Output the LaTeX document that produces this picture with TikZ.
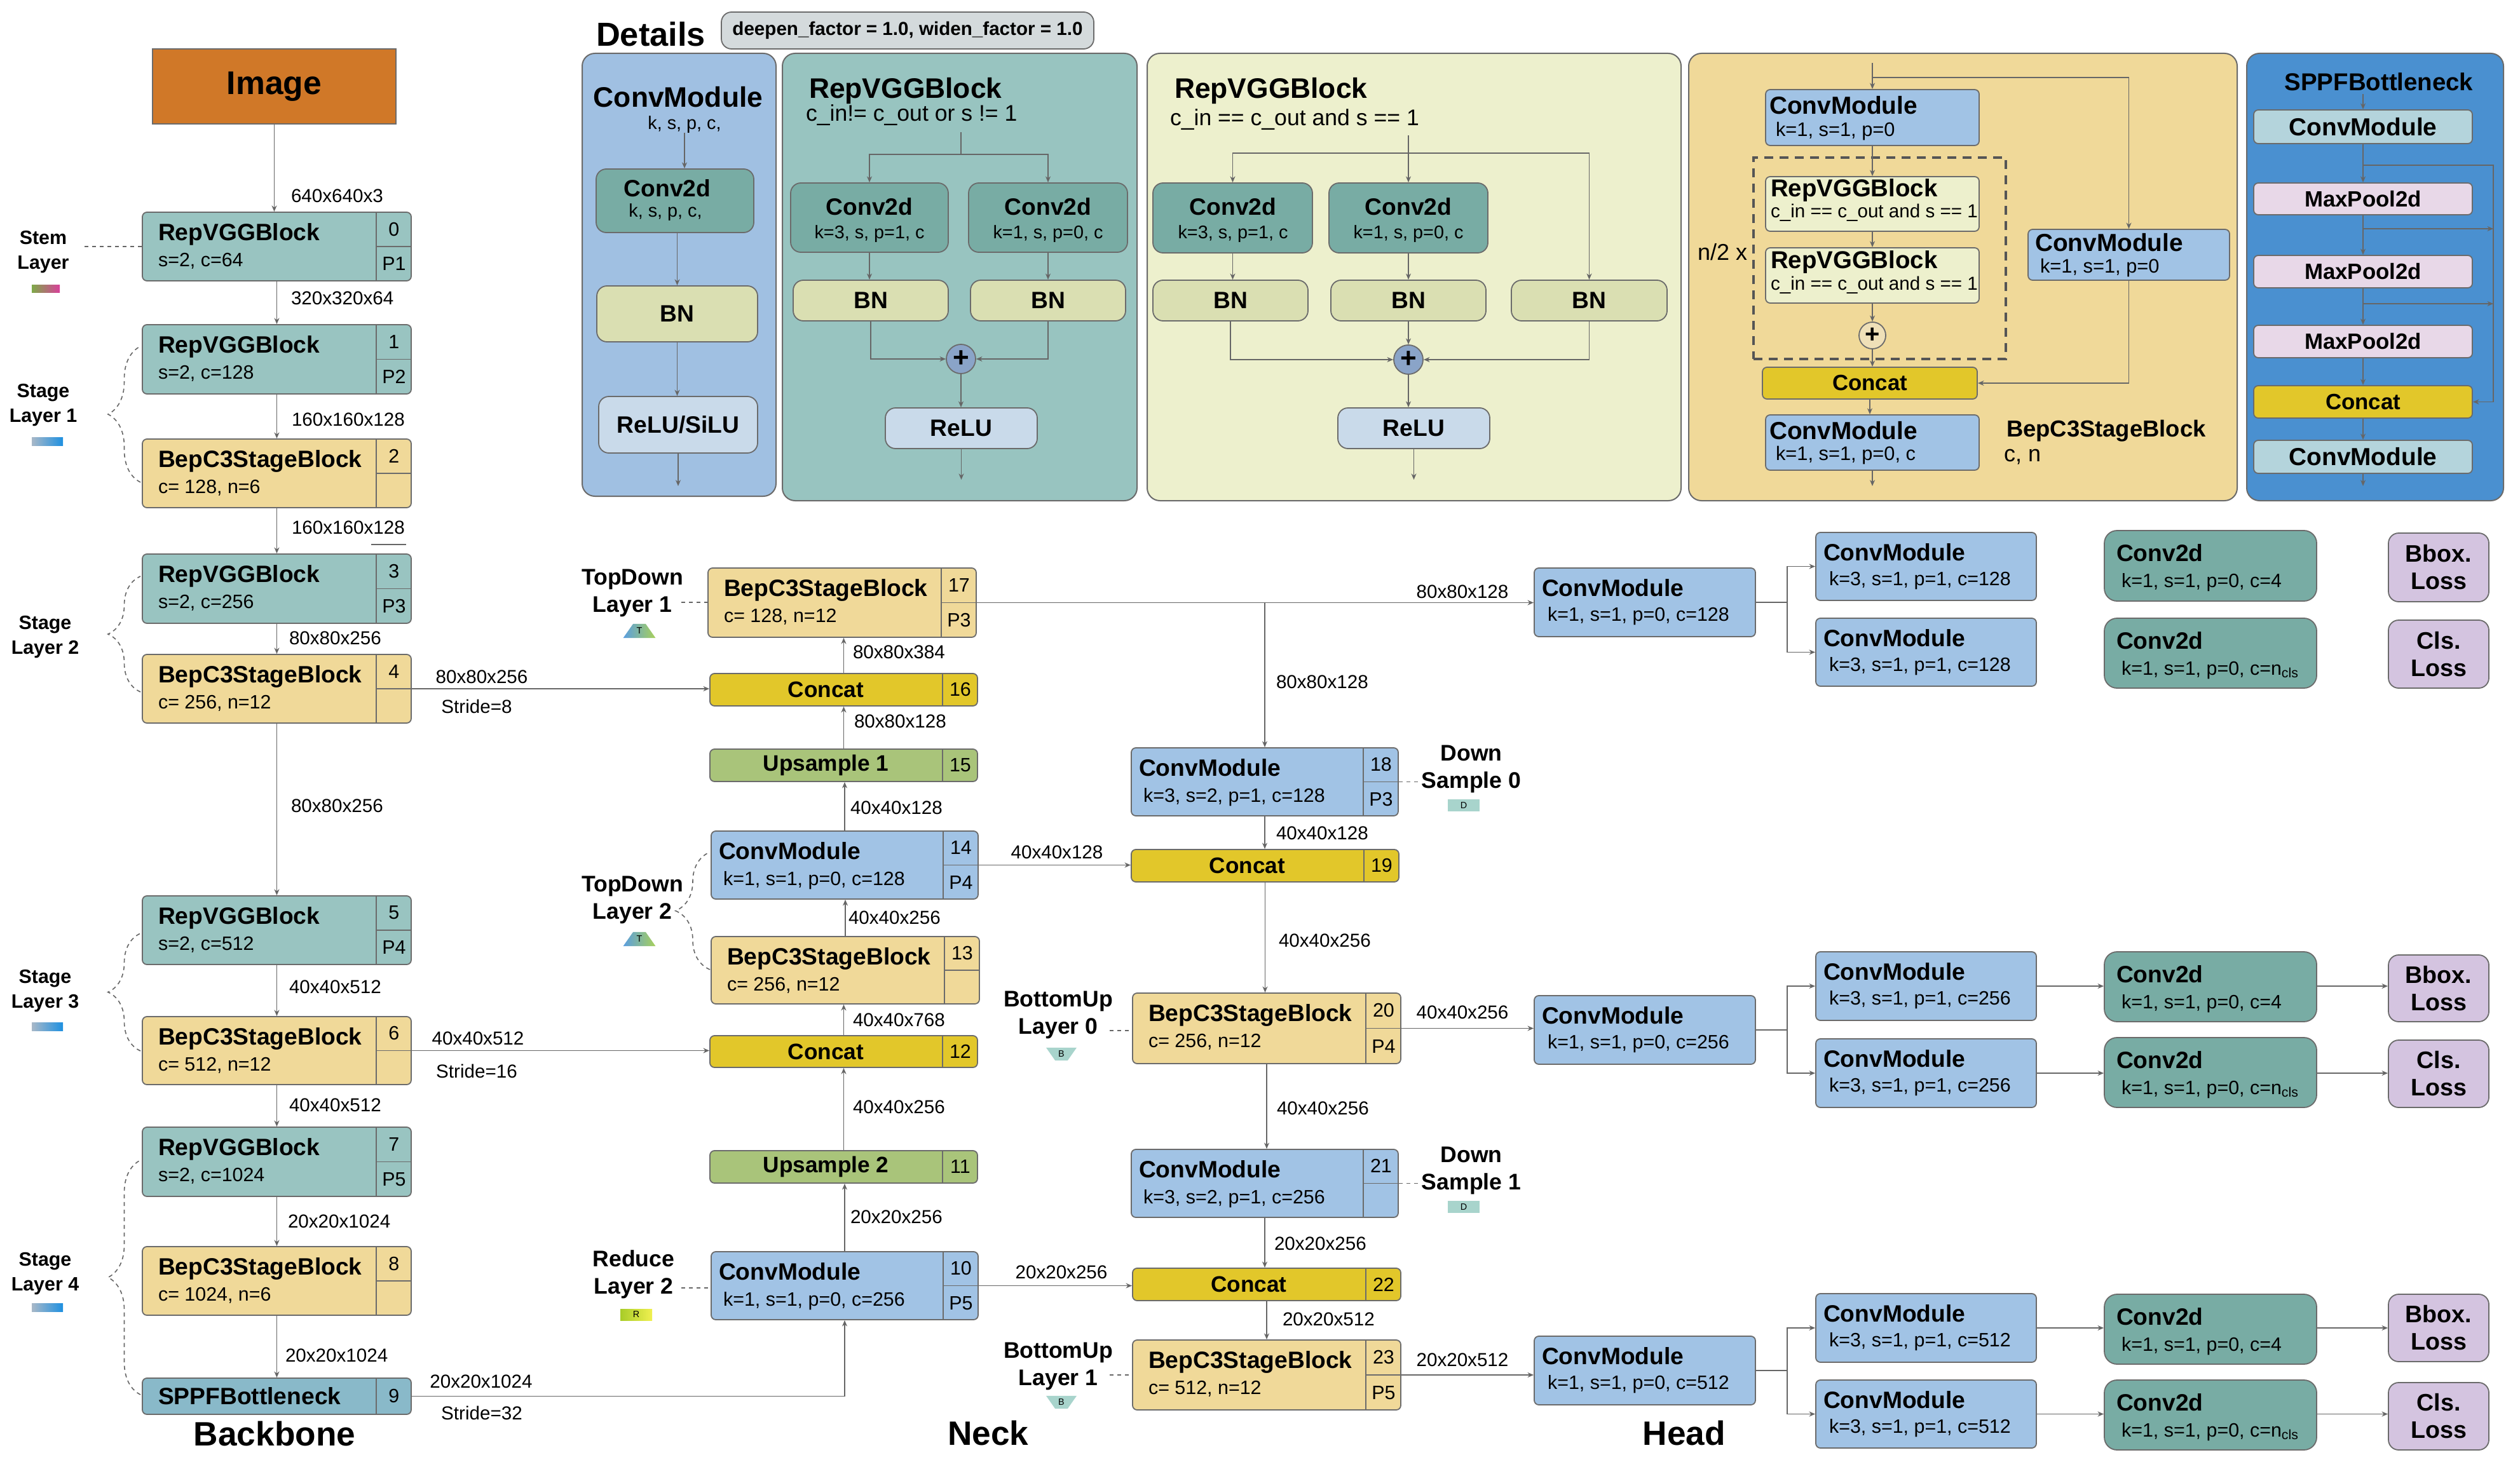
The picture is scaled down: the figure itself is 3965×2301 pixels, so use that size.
\documentclass[tikz,border=0pt]{standalone}
\usepackage{fontspec}
\setmainfont{Liberation Sans}
\usetikzlibrary{fit,calc,arrows.meta,decorations.pathreplacing,shapes.geometric}
\newcommand\fsz[2]{\fontsize{#1}{#2}\selectfont}
\definecolor{bordc}{HTML}{6B6B6B}
\definecolor{linec}{HTML}{666666}
\definecolor{repc}{HTML}{99C4C1}
\definecolor{bepc}{HTML}{F0D999}
\definecolor{sppc}{HTML}{89B9C9}
\definecolor{cmc}{HTML}{A1C3E5}
\definecolor{catc}{HTML}{E2C72A}
\definecolor{upc}{HTML}{A9C47A}
\definecolor{cvc}{HTML}{78ACA4}
\definecolor{lossc}{HTML}{D4C4E0}
\definecolor{imgc}{HTML}{D07828}
\definecolor{p1c}{HTML}{A0C0E2}
\definecolor{p2c}{HTML}{98C4C0}
\definecolor{p3c}{HTML}{EDF0CD}
\definecolor{p5c}{HTML}{4A90D0}
\definecolor{bnc}{HTML}{DADFB2}
\definecolor{reluc}{HTML}{C9DAEA}
\definecolor{spcm}{HTML}{B4D4DC}
\definecolor{mpc}{HTML}{E8D8E8}
\definecolor{pillc}{HTML}{D4DADC}
\definecolor{plusc}{HTML}{8AA4C8}
\definecolor{plustc}{HTML}{EFE0B8}
\definecolor{ibc}{HTML}{A8D4CC}
\definecolor{icTl}{HTML}{5A9EE0}
\definecolor{icTr}{HTML}{A8D05A}
\definecolor{icRl}{HTML}{A8CC28}
\definecolor{icRr}{HTML}{F0F050}
\definecolor{stemL}{HTML}{7EAA48}
\definecolor{stemR}{HTML}{D8409A}
\definecolor{stgL}{HTML}{A8B8C8}
\definecolor{stgR}{HTML}{1E90E0}
\definecolor{dashc}{HTML}{555555}
\tikzset{
 blkS/.style={draw=bordc, line width=0.45pt, rounded corners=1.8pt, inner sep=0pt},
 pnlS/.style={draw=bordc, line width=0.5pt, rounded corners=5pt, inner sep=0pt},
 divS/.style={draw=bordc, line width=0.45pt},
 conn/.style={draw=linec, line width=0.4pt},
 arr/.style={conn, -{Stealth[length=2.4pt,width=2pt]}},
 dsh/.style={draw=linec, line width=0.4pt, dash pattern=on 1.6pt off 1.4pt},
 txtS/.style={inner sep=0pt, outer sep=0pt},
 ttlS/.style={txtS, font=\fsz{9.3pt}{11pt}\bfseries},
 subS/.style={txtS, font=\fsz{7.6pt}{9pt}},
 idxS/.style={txtS, font=\fsz{7.6pt}{9pt}},
 labS/.style={txtS, font=\fsz{7.4pt}{9pt}},
 slabS/.style={txtS, align=center, font=\fsz{7.6pt}{9.75pt}\bfseries},
 nlabS/.style={txtS, align=center, font=\fsz{8.9pt}{10.75pt}\bfseries},
 bigS/.style={txtS, font=\fsz{13.3pt}{15pt}\bfseries},
 ptitleS/.style={txtS, font=\fsz{11.1pt}{13pt}\bfseries},
 psubS/.style={txtS, font=\fsz{8.9pt}{10pt}},
 pinS/.style={txtS, font=\fsz{9.3pt}{11pt}\bfseries},
 pparS/.style={txtS, font=\fsz{7.2pt}{9pt}},
 barS/.style={txtS, font=\fsz{8.8pt}{10pt}\bfseries},
 iboxS/.style={blkS, rounded corners=4pt},
}
% box with centred text: name, corner1, corner2, box style, font, text
\newcommand\tbox[6]{%
  \node[#4, fit={(#2) (#3)}] (#1) {};
  \node[txtS, align=center, font=#5] (#1-t) at (#1.center) {#6};
}
\newcommand\blkbase[8]{%
  \node[blkS, fill=#4, fit={(#2) (#3)}] (#1) {};
  \draw[divS] ([xshift=-14pt]#1.north east) -- ([xshift=-14pt]#1.south east);
  \draw[divS] ([xshift=-14pt]#1.east) -- (#1.east);
  \node[ttlS, anchor=base west] (#1-t) at ([xshift=\tmar, yshift=-11.25pt]#1.north west) {#5};
  \node[subS, anchor=base west] (#1-s) at ([xshift=\smar, yshift=-21.5pt]#1.north west) {#6};
  \node[idxS] (#1-i) at ($(#1.north east)!0.5!(#1.east)+(-7pt,0pt)$) {#7};
  \node[idxS] (#1-p) at ($(#1.south east)!0.5!(#1.east)+(-7pt,0pt)$) {#8};
}
\newcommand\barblk[6]{%
  \node[blkS, fill=#4, fit={(#2) (#3)}] (#1) {};
  \draw[divS] ([xshift=-14pt]#1.north east) -- ([xshift=-14pt]#1.south east);
  \node[barS] (#1-t) at ($(#1.center)+(-7pt,0pt)$) {#5};
  \node[idxS] (#1-i) at ($(#1.east)+(-7pt,0pt)$) {#6};
}
\newcommand\headcm[5]{%
  \node[blkS, fill=cmc, fit={(#2) (#3)}] (#1) {};
  \node[ttlS, anchor=base west] (#1-t) at ([xshift=3.25pt, yshift=-11.25pt]#1.north west) {#4};
  \node[subS, anchor=base west] (#1-s) at ([xshift=5.5pt, yshift=-21pt]#1.north west) {#5};
}
\newcommand\headcv[4]{%
  \node[blkS, fill=cvc, rounded corners=5pt, fit={(#2) (#3)}] (#1) {};
  \node[ttlS, anchor=base west] (#1-t) at ([xshift=5pt, yshift=-12.25pt]#1.north west) {Conv2d};
  \node[subS, anchor=base west] (#1-s) at ([xshift=7pt, yshift=-22.5pt]#1.north west) {#4};
}
\newcommand\lossbx[4]{%
  \tbox{#1}{#2}{#3}{blkS, fill=lossc, rounded corners=4pt}{\fsz{9.4pt}{10.75pt}\bfseries}{#4}%
}
\begin{document}
\begin{tikzpicture}[x=0.25pt,y=-0.25pt]
\useasboundingbox (0,0) rectangle (3965,2301);
\fill[white] (0,0) rectangle (3965,2301);

% ================= Backbone =================
\tbox{img}{240,77}{623,195}{draw=bordc, line width=0.5pt, fill=imgc, inner sep=0pt}{\fsz{12.9pt}{14pt}\bfseries}{Image}
\def\tmar{6.5pt}\def\smar{6.5pt}
\blkbase{b0}{224,334}{647,442}{repc}{RepVGGBlock}{s=2, c=64}{0}{P1}
\blkbase{b1}{224,511}{647,620}{repc}{RepVGGBlock}{s=2, c=128}{1}{P2}
\blkbase{b2}{224,691}{647,799}{bepc}{BepC3StageBlock}{c= 128, n=6}{2}{}
\blkbase{b3}{224,872}{647,981}{repc}{RepVGGBlock}{s=2, c=256}{3}{P3}
\blkbase{b4}{224,1030}{647,1138}{bepc}{BepC3StageBlock}{c= 256, n=12}{4}{}
\blkbase{b5}{224,1410}{647,1518}{repc}{RepVGGBlock}{s=2, c=512}{5}{P4}
\blkbase{b6}{224,1600}{647,1707}{bepc}{BepC3StageBlock}{c= 512, n=12}{6}{}
\blkbase{b7}{224,1774}{647,1883}{repc}{RepVGGBlock}{s=2, c=1024}{7}{P5}
\blkbase{b8}{224,1962}{647,2070}{bepc}{BepC3StageBlock}{c= 1024, n=6}{8}{}
\node[blkS, fill=sppc, fit={(224,2169) (647,2226)}] (b9) {};
\draw[divS] ([xshift=-14pt]b9.north east) -- ([xshift=-14pt]b9.south east);
\node[ttlS, anchor=west] (b9-t) at ([xshift=6.5pt]b9.west) {SPPFBottleneck};
\node[idxS] (b9-i) at ([xshift=-7pt]b9.east) {9};

\draw[arr] (img.south) -- (img.south |- b0.north);
\foreach \a/\b in {b0/b1,b1/b2,b2/b3,b3/b4,b4/b5,b5/b6,b6/b7,b7/b8,b8/b9}
  \draw[arr] (\a.south) -- (\b.north);
\draw[conn] (584,857) -- (639,857);

\node[labS, anchor=west] (l01) at (458,308) {640x640x3};
\node[labS, anchor=west] (l02) at (458,469) {320x320x64};
\node[labS, anchor=west] (l03) at (459,660) {160x160x128};
\node[labS, anchor=west] (l04) at (459,830) {160x160x128};
\node[labS, anchor=west] (l05) at (455,1004) {80x80x256};
\node[labS, anchor=west] (l06) at (458,1268) {80x80x256};
\node[labS, anchor=west] (l07) at (455,1553) {40x40x512};
\node[labS, anchor=west] (l08) at (455,1739) {40x40x512};
\node[labS, anchor=west] (l09) at (453,1922) {20x20x1024};
\node[labS, anchor=west] (l10) at (449,2133) {20x20x1024};
\node[labS] (l11) at (758,1065) {80x80x256};
\node[labS] (l12) at (750,1112) {Stride=8};
\node[labS] (l13) at (752,1634) {40x40x512};
\node[labS] (l14) at (750,1686) {Stride=16};
\node[labS] (l15) at (757,2174) {20x20x1024};
\node[labS] (l16) at (758,2224) {Stride=32};

% stage labels
\node[slabS] (sStem) at (68,397) {Stem\\Layer};
\node[inner sep=0pt, fit={(50,448) (94,460)}, left color=stemL, right color=stemR] (barStem) {};
\coordinate (stemE) at (133,388);
\draw[dsh] (stemE) -- (stemE -| b0.west);
\node[slabS] (sSt1) at (68,638) {Stage\\Layer 1};
\node[inner sep=0pt, fit={(50,688) (99,701)}, left color=stgL, right color=stgR] (barSt1) {};
\node[slabS] (sSt2) at (71,1003) {Stage\\Layer 2};
\node[slabS] (sSt3) at (71,1560) {Stage\\Layer 3};
\node[inner sep=0pt, fit={(50,1609) (99,1622)}, left color=stgL, right color=stgR] (barSt3) {};
\node[slabS] (sSt4) at (71,2005) {Stage\\Layer 4};
\node[inner sep=0pt, fit={(50,2051) (99,2064)}, left color=stgL, right color=stgR] (barSt4) {};
\draw[dsh, decorate, decoration={brace, amplitude=12.75pt}] (221,759) -- (221,545);
\draw[dsh, decorate, decoration={brace, amplitude=12.75pt}] (221,1089) -- (221,907);
\draw[dsh, decorate, decoration={brace, amplitude=12.75pt}] (221,1654) -- (221,1469);
\draw[dsh, decorate, decoration={brace, amplitude=12.75pt}] (221,2195) -- (221,1826);
\node[bigS] (tBack) at (432,2256) {Backbone};

% ================= Head =================
\headcm{H1A}{2414,894}{2762,1002}{ConvModule}{k=1, s=1, p=0, c=128}
\headcm{H2aA}{2857,838}{3204,945}{ConvModule}{k=3, s=1, p=1, c=128}
\headcm{H2bA}{2857,973}{3204,1080}{ConvModule}{k=3, s=1, p=1, c=128}
\headcv{CvaA}{3311,835}{3645,946}{k=1, s=1, p=0, c=4}
\headcv{CvbA}{3311,973}{3645,1083}{k=1, s=1, p=0, c=n\textsubscript{cls}}
\lossbx{BbA}{3758,839}{3916,947}{Bbox.\\Loss}
\lossbx{ClA}{3758,976}{3916,1083}{Cls.\\Loss}

\headcm{H1B}{2414,1567}{2762,1675}{ConvModule}{k=1, s=1, p=0, c=256}
\headcm{H2aB}{2857,1498}{3204,1606}{ConvModule}{k=3, s=1, p=1, c=256}
\headcm{H2bB}{2857,1635}{3204,1743}{ConvModule}{k=3, s=1, p=1, c=256}
\headcv{CvaB}{3311,1498}{3645,1608}{k=1, s=1, p=0, c=4}
\headcv{CvbB}{3311,1633}{3645,1743}{k=1, s=1, p=0, c=n\textsubscript{cls}}
\lossbx{BbB}{3758,1503}{3916,1608}{Bbox.\\Loss}
\lossbx{ClB}{3758,1637}{3916,1743}{Cls.\\Loss}

\headcm{H1C}{2414,2103}{2762,2211}{ConvModule}{k=1, s=1, p=0, c=512}
\headcm{H2aC}{2857,2036}{3204,2144}{ConvModule}{k=3, s=1, p=1, c=512}
\headcm{H2bC}{2857,2172}{3204,2279}{ConvModule}{k=3, s=1, p=1, c=512}
\headcv{CvaC}{3311,2037}{3645,2147}{k=1, s=1, p=0, c=4}
\headcv{CvbC}{3311,2172}{3645,2282}{k=1, s=1, p=0, c=n\textsubscript{cls}}
\lossbx{BbC}{3758,2037}{3916,2143}{Bbox.\\Loss}
\lossbx{ClC}{3758,2176}{3916,2282}{Cls.\\Loss}

\foreach \r in {A,B,C} {
  \coordinate (J\r) at ($(H1\r.east)+(12.25pt,0pt)$);
  \draw[arr] (H1\r.east) -- (J\r) |- (H2a\r.west);
  \draw[arr] (J\r) |- (H2b\r.west);
}
\foreach \r in {B,C} {
  \draw[arr] (H2a\r.east) -- (H2a\r.east -| Cva\r.west);
  \draw[arr] (H2a\r.east -| Cva\r.east) -- (H2a\r.east -| Bb\r.west);
  \draw[arr] (H2b\r.east) -- (H2b\r.east -| Cvb\r.west);
  \draw[arr] (H2b\r.east -| Cvb\r.east) -- (H2b\r.east -| Cl\r.west);
}
\node[bigS] (tHead) at (2650,2255) {Head};

% ================= Neck =================
\def\tmar{6.5pt}\def\smar{6.5pt}
\blkbase{b17}{1114,894}{1536,1003}{bepc}{BepC3StageBlock}{c= 128, n=12}{17}{P3}
\blkbase{b13}{1119,1474}{1541,1580}{bepc}{BepC3StageBlock}{c= 256, n=12}{13}{}
\blkbase{b20}{1782,1563}{2204,1674}{bepc}{BepC3StageBlock}{c= 256, n=12}{20}{P4}
\blkbase{b23}{1782,2109}{2204,2219}{bepc}{BepC3StageBlock}{c= 512, n=12}{23}{P5}
\def\tmar{3.25pt}\def\smar{5pt}
\blkbase{cm14}{1119,1308}{1539,1415}{cmc}{ConvModule}{k=1, s=1, p=0, c=128}{14}{P4}
\blkbase{cm10}{1119,1970}{1539,2077}{cmc}{ConvModule}{k=1, s=1, p=0, c=256}{10}{P5}
\blkbase{cm18}{1780,1177}{2200,1284}{cmc}{ConvModule}{k=3, s=2, p=1, c=128}{18}{P3}
\blkbase{cm21}{1780,1809}{2200,1916}{cmc}{ConvModule}{k=3, s=2, p=1, c=256}{21}{}
\barblk{c16}{1117,1060}{1538,1111}{catc}{Concat}{16}
\barblk{u15}{1117,1179}{1538,1230}{upc}{Upsample 1}{15}
\barblk{c12}{1117,1630}{1538,1680}{catc}{Concat}{12}
\barblk{u11}{1117,1811}{1538,1862}{upc}{Upsample 2}{11}
\barblk{c19}{1780,1337}{2201,1388}{catc}{Concat}{19}
\barblk{c22}{1782,1996}{2204,2047}{catc}{Concat}{22}

\draw[arr] (c16.north) -- (c16.north |- b17.south);
\draw[arr] (u15.north) -- (u15.north |- c16.south);
\draw[arr] (cm14.north) -- (cm14.north |- u15.south);
\draw[arr] (b13.north) -- (b13.north |- cm14.south);
\draw[arr] (c12.north) -- (c12.north |- b13.south);
\draw[arr] (u11.north) -- (u11.north |- c12.south);
\draw[arr] (cm10.north) -- (cm10.north |- u11.south);
\draw[arr] (b4.east) -- (b4.east -| c16.west);
\draw[arr] (b6.east) -- (b6.east -| c12.west);
\draw[arr] (b9.east) -| (cm10.south);
\draw[arr] (cm14.east) -- (cm14.east -| c19.west);
\draw[arr] (cm10.east) -- (cm10.east -| c22.west);
\draw[arr] (b17.east) -- (b17.east -| H1A.west);
\draw[arr] (b17.east -| cm18.north) -- (cm18.north);
\draw[arr] (cm18.south) -- (cm18.south |- c19.north);
\draw[arr] (c19.south) -- (c19.south |- b20.north);
\draw[arr] (b20.south) -- (b20.south |- cm21.north);
\draw[arr] (cm21.south) -- (cm21.south |- c22.north);
\draw[arr] (c22.south) -- (c22.south |- b23.north);
\draw[arr] (b20.east) -- (b20.east -| H1B.west);
\draw[arr] (b23.east) -- (b23.east -| H1C.west);

\node[labS, anchor=west] (n01) at (1342,1026) {80x80x384};
\node[labS, anchor=west] (n02) at (1344,1135) {80x80x128};
\node[labS, anchor=west] (n03) at (1338,1271) {40x40x128};
\node[labS, anchor=west] (n04) at (1335,1444) {40x40x256};
\node[labS, anchor=west] (n05) at (1342,1605) {40x40x768};
\node[labS, anchor=west] (n06) at (1342,1742) {40x40x256};
\node[labS, anchor=west] (n07) at (1338,1915) {20x20x256};
\node[labS] (n08) at (1663,1341) {40x40x128};
\node[labS] (n09) at (1670,2002) {20x20x256};
\node[labS, anchor=west] (n10) at (2008,1073) {80x80x128};
\node[labS, anchor=west] (n11) at (2008,1311) {40x40x128};
\node[labS, anchor=west] (n12) at (2012,1480) {40x40x256};
\node[labS, anchor=west] (n13) at (2009,1744) {40x40x256};
\node[labS, anchor=west] (n14) at (2005,1957) {20x20x256};
\node[labS, anchor=west] (n15) at (2018,2076) {20x20x512};
\node[labS] (n16) at (2301,931) {80x80x128};
\node[labS] (n17) at (2301,1593) {40x40x256};
\node[labS] (n18) at (2301,2140) {20x20x512};

% neck side labels
\node[nlabS] (sTD1) at (995,933) {TopDown\\Layer 1};
\node[trapezium, trapezium angle=55, minimum width=12.75pt, minimum height=4.75pt, inner sep=0pt, left color=icTl, right color=icTr, font=\fsz{3.6pt}{4pt}] (icT1) at (1006,993) {T};
\coordinate (td1E) at (1072,948);
\draw[dsh] (td1E) -- (td1E -| b17.west);
\node[nlabS] (sTD2) at (995,1416) {TopDown\\Layer 2};
\node[trapezium, trapezium angle=55, minimum width=12.75pt, minimum height=4.75pt, inner sep=0pt, left color=icTl, right color=icTr, font=\fsz{3.6pt}{4pt}] (icT2) at (1006,1478) {T};
\draw[dsh, decorate, decoration={brace, amplitude=13.5pt}] (1117,1526) -- (1117,1341);
\node[nlabS] (sRD) at (997,2006) {Reduce\\Layer 2};
\tbox{icR}{976,2060}{1026,2078}{inner sep=0pt, left color=icRl, right color=icRr}{\fsz{3.6pt}{4pt}}{R}
\coordinate (rdE) at (1072,2027);
\draw[dsh] (rdE) -- (rdE -| cm10.west);
\node[nlabS] (sBU0) at (1665,1597) {BottomUp\\Layer 0};
\node[trapezium, trapezium angle=55, shape border rotate=180, minimum width=12pt, minimum height=5pt, inner sep=0pt, fill=ibc, font=\fsz{3.6pt}{4pt}] (icB0) at (1670,1659) {B};
\coordinate (bu0E) at (1746,1622);
\draw[dsh] (bu0E) -- (bu0E -| b20.west);
\node[nlabS] (sBU1) at (1665,2150) {BottomUp\\Layer 1};
\node[trapezium, trapezium angle=55, shape border rotate=180, minimum width=12pt, minimum height=5pt, inner sep=0pt, fill=ibc, font=\fsz{3.6pt}{4pt}] (icB1) at (1670,2207) {B};
\coordinate (bu1E) at (1746,2164);
\draw[dsh] (bu1E) -- (bu1E -| b23.west);
\node[nlabS] (sDS0) at (2315,1210) {Down\\Sample 0};
\tbox{icD0}{2278,1258}{2328,1277}{inner sep=0pt, fill=ibc}{\fsz{3.6pt}{4pt}}{D}
\coordinate (ds0W) at (2235,1232);
\draw[dsh] (cm18.east) -- (cm18.east -| ds0W);
\node[nlabS] (sDS1) at (2315,1842) {Down\\Sample 1};
\tbox{icD1}{2278,1890}{2328,1909}{inner sep=0pt, fill=ibc}{\fsz{3.6pt}{4pt}}{D}
\coordinate (ds1W) at (2235,1864);
\draw[dsh] (cm21.east) -- (cm21.east -| ds1W);
\node[bigS] (tNeck) at (1555,2255) {Neck};

% ================= Details =================
\node[txtS, font=\fsz{13.1pt}{15pt}\bfseries] (tDet) at (1024,54) {Details};
\tbox{pill}{1135,19}{1721,77}{draw=bordc, line width=0.45pt, fill=pillc, rounded corners=4pt, inner sep=0pt}{\fsz{7.4pt}{9pt}\bfseries}{deepen\_factor = 1.0, widen\_factor = 1.0}

% Panel 1: ConvModule
\node[pnlS, fill=p1c, fit={(916,84) (1221,781)}] (P1) {};
\node[ptitleS] (P1t) at (1067,153) {ConvModule};
\node[pparS] (P1k) at (1077,196) {k, s, p, c,};
\node[iboxS, fill=cvc, fit={(938,266) (1186,366)}] (P1c) {};
\node[pinS] (P1ct) at (1050,296) {Conv2d};
\node[pparS] (P1cs) at (1047,334) {k, s, p, c,};
\tbox{P1b}{939,450}{1192,538}{iboxS, fill=bnc}{\fsz{9.3pt}{11pt}\bfseries}{BN}
\tbox{P1r}{942,624}{1192,713}{iboxS, fill=reluc}{\fsz{9.3pt}{11pt}\bfseries}{ReLU/SiLU}
\coordinate (P1o) at (1068,765);
\draw[arr] (P1k.south) -- (P1k.south |- P1c.north);
\draw[arr] (P1b.north |- P1c.south) -- (P1b.north);
\draw[arr] (P1b.south) -- (P1b.south |- P1r.north);
\draw[arr] (P1r.south) -- (P1r.south |- P1o);

% Panel 2: RepVGGBlock (train)
\node[pnlS, fill=p2c, fit={(1231,84) (1789,788)}] (P2) {};
\node[ptitleS, anchor=west] (P2t) at (1273,143) {RepVGGBlock};
\node[psubS, anchor=west] (P2s) at (1268,181) {c\_in!= c\_out or s != 1};
\node[iboxS, fill=cvc, fit={(1244,288) (1492,397)}] (P2cl) {};
\node[pinS] (P2clt) at (1368,325) {Conv2d};
\node[pparS] (P2cls) at (1368,368) {k=3, s, p=1, c};
\node[iboxS, fill=cvc, fit={(1524,288) (1774,397)}] (P2cr) {};
\node[pinS] (P2crt) at (1649,325) {Conv2d};
\node[pparS] (P2crs) at (1649,368) {k=1, s, p=0, c};
\tbox{P2bl}{1248,441}{1492,505}{iboxS, fill=bnc}{\fsz{9.3pt}{11pt}\bfseries}{BN}
\tbox{P2br}{1527,441}{1771,505}{iboxS, fill=bnc}{\fsz{9.3pt}{11pt}\bfseries}{BN}
\node[circle, draw=bordc, line width=0.45pt, fill=plusc, minimum size=11.5pt, inner sep=0pt, font=\fsz{11pt}{11pt}\bfseries] (P2p) at (1512,565) {+};
\tbox{P2r}{1393,642}{1632,706}{iboxS, fill=reluc}{\fsz{9.3pt}{11pt}\bfseries}{ReLU}
\coordinate (P2in) at (1512,208);
\coordinate (P2j) at (1512,243);
\coordinate (P2o) at (1512,755);
\draw[conn] (P2in) -- (P2j);
\draw[arr] (P2j) -| (P2cl.north);
\draw[arr] (P2j) -| (P2cr.north);
\draw[arr] (P2cl.south) -- (P2cl.south |- P2bl.north);
\draw[arr] (P2cr.south) -- (P2cr.south |- P2br.north);
\draw[arr] (P2bl.south) |- (P2p.west);
\draw[arr] (P2br.south) |- (P2p.east);
\draw[arr] (P2p.south) -- (P2p.south |- P2r.north);
\draw[arr] (P2r.south) -- (P2r.south |- P2o);

% Panel 3: RepVGGBlock (infer)
\node[pnlS, fill=p3c, fit={(1805,84) (2645,788)}] (P3) {};
\node[ptitleS, anchor=west] (P3t) at (1848,143) {RepVGGBlock};
\node[psubS, anchor=west] (P3s) at (1841,188) {c\_in == c\_out and s == 1};
\node[iboxS, fill=cvc, fit={(1814,288) (2065,398)}] (P3cl) {};
\node[pinS] (P3clt) at (1940,325) {Conv2d};
\node[pparS] (P3cls) at (1940,368) {k=3, s, p=1, c};
\node[iboxS, fill=cvc, fit={(2091,288) (2341,398)}] (P3cm) {};
\node[pinS] (P3cmt) at (2216,325) {Conv2d};
\node[pparS] (P3cms) at (2216,368) {k=1, s, p=0, c};
\tbox{P3b1}{1814,441}{2058,505}{iboxS, fill=bnc}{\fsz{9.3pt}{11pt}\bfseries}{BN}
\tbox{P3b2}{2094,441}{2338,505}{iboxS, fill=bnc}{\fsz{9.3pt}{11pt}\bfseries}{BN}
\tbox{P3b3}{2378,441}{2623,505}{iboxS, fill=bnc}{\fsz{9.3pt}{11pt}\bfseries}{BN}
\node[circle, draw=bordc, line width=0.45pt, fill=plusc, minimum size=11.5pt, inner sep=0pt, font=\fsz{11pt}{11pt}\bfseries] (P3p) at (2216,566) {+};
\tbox{P3r}{2105,642}{2344,706}{iboxS, fill=reluc}{\fsz{9.3pt}{11pt}\bfseries}{ReLU}
\coordinate (P3in) at (2216,213);
\coordinate (P3j) at (2216,241);
\coordinate (P3o) at (2224,755);
\draw[arr] (P3in) -- (P3in |- P3cm.north);
\draw[arr] (P3j) -| (P3cl.north);
\draw[arr] (P3j) -| (P3b3.north);
\draw[arr] (P3cl.south) -- (P3cl.south |- P3b1.north);
\draw[arr] (P3cm.south) -- (P3cm.south |- P3b2.north);
\draw[arr] (P3b1.south) |- (P3p.west);
\draw[arr] (P3b2.south) -- (P3b2.south |- P3p.north);
\draw[arr] (P3b3.south) |- (P3p.east);
\draw[arr] (P3p.south) -- (P3p.south |- P3r.north);
\draw[arr] (P3r.south) -- (P3r.south |- P3o);

% Panel 4: BepC3StageBlock
\node[pnlS, fill=bepc, fit={(2657,84) (3520,788)}] (P4) {};
\node[blkS, fill=cmc, fit={(2778,141) (3114,229)}] (P4ca) {};
\node[txtS, anchor=west, font=\fsz{9.7pt}{11pt}\bfseries] (P4cat1) at (2784,166) {ConvModule};
\node[txtS, anchor=west, font=\fsz{7.7pt}{9pt}] (P4cas) at (2794,207) {k=1, s=1, p=0};
\node[draw=dashc, line width=1.1pt, dash pattern=on 3.5pt off 2.5pt, inner sep=0pt, fit={(2759,248) (3156,565)}] (P4d) {};
\node[txtS, anchor=west, font=\fsz{9pt}{10pt}] (P4n) at (2671,397) {n/2 x};
\node[blkS, fill=p3c, fit={(2778,278) (3114,364)}] (P4ra) {};
\node[txtS, anchor=west, font=\fsz{9.6pt}{11pt}\bfseries] (P4rat) at (2786,300) {RepVGGBlock};
\node[txtS, anchor=west, font=\fsz{7.4pt}{9pt}] (P4ras) at (2786,335) {c\_in == c\_out and s == 1};
\node[blkS, fill=p3c, fit={(2778,390) (3114,477)}] (P4rb) {};
\node[txtS, anchor=west, font=\fsz{9.6pt}{11pt}\bfseries] (P4rbt) at (2786,413) {RepVGGBlock};
\node[txtS, anchor=west, font=\fsz{7.4pt}{9pt}] (P4rbs) at (2786,449) {c\_in == c\_out and s == 1};
\node[circle, draw=bordc, line width=0.45pt, fill=plustc, minimum size=10.5pt, inner sep=0pt, font=\fsz{10pt}{10pt}\bfseries] (P4p) at (2946,528) {+};
\tbox{P4cat}{2773,578}{3111,628}{blkS, fill=catc}{\fsz{8.7pt}{10pt}\bfseries}{Concat}
\node[blkS, fill=cmc, fit={(3191,361) (3508,441)}] (P4cb) {};
\node[txtS, anchor=west, font=\fsz{9.7pt}{11pt}\bfseries] (P4cbt) at (3202,382) {ConvModule};
\node[txtS, anchor=west, font=\fsz{7.7pt}{9pt}] (P4cbs) at (3210,422) {k=1, s=1, p=0};
\node[blkS, fill=cmc, fit={(2778,653) (3114,740)}] (P4cc) {};
\node[txtS, anchor=west, font=\fsz{9.7pt}{11pt}\bfseries] (P4cct) at (2784,678) {ConvModule};
\node[txtS, anchor=west, font=\fsz{7.7pt}{9pt}] (P4ccs) at (2794,717) {k=1, s=1, p=0, c};
\node[txtS, anchor=west, font=\fsz{9.1pt}{11pt}\bfseries] (P4lt) at (3157,678) {BepC3StageBlock};
\node[txtS, anchor=west, font=\fsz{9pt}{10pt}] (P4ls) at (3153,719) {c, n};
\coordinate (P4in) at (2946,99);
\coordinate (P4j) at (2946,122);
\coordinate (P4o) at (2946,765);
\draw[arr] (P4in) -- (P4in |- P4ca.north);
\draw[arr] (P4j) -| (P4cb.north);
\draw[arr] (P4ca.south) -- (P4ca.south |- P4ra.north);
\draw[arr] (P4ra.south) -- (P4ra.south |- P4rb.north);
\draw[arr] (P4rb.south) -- (P4rb.south |- P4p.north);
\draw[arr] (P4p.south) -- (P4p.south |- P4cat.north);
\draw[arr] (P4cb.south) |- (P4cat.east);
\draw[arr] (P4cat.south) -- (P4cat.south |- P4cc.north);
\draw[arr] (P4cc.south) -- (P4cc.south |- P4o);

% Panel 5: SPPFBottleneck
\node[pnlS, fill=p5c, fit={(3535,84) (3939,788)}] (P5) {};
\node[txtS, font=\fsz{9.6pt}{11pt}\bfseries] (P5t) at (3743,129) {SPPFBottleneck};
\tbox{P5s1}{3546,173}{3890,226}{blkS, fill=spcm}{\fsz{9.7pt}{11pt}\bfseries}{ConvModule}
\tbox{P5m1}{3546,288}{3890,338}{blkS, fill=mpc}{\fsz{8.7pt}{10pt}\bfseries}{MaxPool2d}
\tbox{P5m2}{3546,402}{3890,453}{blkS, fill=mpc}{\fsz{8.7pt}{10pt}\bfseries}{MaxPool2d}
\tbox{P5m3}{3546,512}{3890,563}{blkS, fill=mpc}{\fsz{8.7pt}{10pt}\bfseries}{MaxPool2d}
\tbox{P5cat}{3546,607}{3890,658}{blkS, fill=catc}{\fsz{8.7pt}{10pt}\bfseries}{Concat}
\tbox{P5s2}{3546,693}{3890,745}{blkS, fill=spcm}{\fsz{9.7pt}{11pt}\bfseries}{ConvModule}
\coordinate (P5in) at (3718,148);
\coordinate (P5o) at (3718,765);
\coordinate (P5r) at (3923,260);
\coordinate (P5b1) at (3923,360);
\coordinate (P5b2) at (3923,478);
\draw[arr] (P5in) -- (P5in |- P5s1.north);
\foreach \a/\b in {P5s1/P5m1,P5m1/P5m2,P5m2/P5m3,P5m3/P5cat,P5cat/P5s2}
  \draw[arr] (\a.south) -- (\b.north);
\draw[arr] (P5s1.south |- P5r) -- (P5r) |- (P5cat.east);
\draw[arr] (P5m1.south |- P5b1) -- (P5b1);
\draw[arr] (P5m2.south |- P5b2) -- (P5b2);
\draw[arr] (P5s2.south) -- (P5s2.south |- P5o);
\end{tikzpicture}
\end{document}
